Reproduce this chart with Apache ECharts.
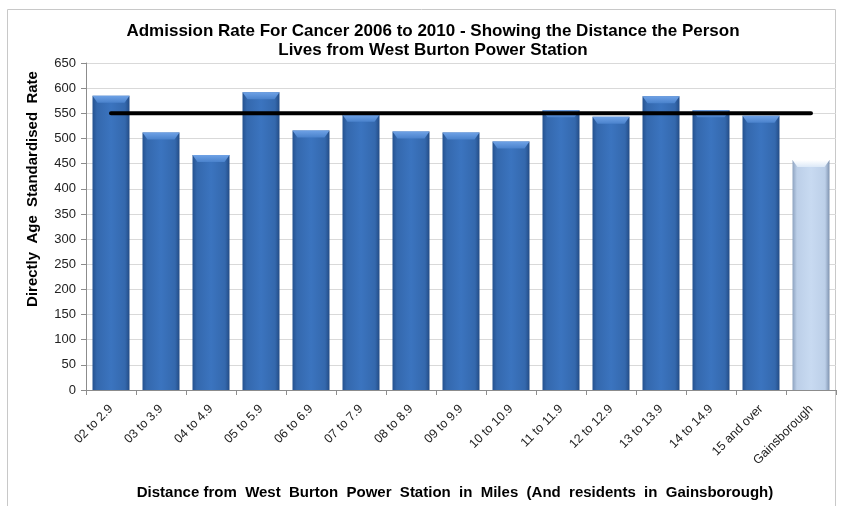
<!DOCTYPE html>
<html>
<head>
<meta charset="utf-8">
<script src="https://cdn.jsdelivr.net/npm/echarts@6/dist/echarts.min.js"></script>
<style>
    html, body { margin: 0; padding: 0; background: #fff; }
    #chart { width: 842px; height: 506px; }
</style>
</head>
<body>
<div id="chart"></div>
<script>
// distance bands (miles) plus the town itself
var categories = ['02 to 2.9', '03 to 3.9', '04 to 4.9', '05 to 5.9', '06 to 6.9', '07 to 7.9',
    '08 to 8.9', '09 to 9.9', '10 to 10.9', '11 to 11.9', '12 to 12.9', '13 to 13.9',
    '14 to 14.9', '15 and over', 'Gainsborough'];
var rates = [585, 512, 467, 592, 516, 547, 514, 512, 494, 556, 543, 584, 556, 545, 457];
// overall average line
var average = [550, 550, 550, 550, 550, 550, 550, 550, 550, 550, 550, 550, 550, 550, 550];

lineTable('chart');

function lineTable(id) {
    var myChart = echarts.init(document.getElementById(id));

    var darkBar = new echarts.graphic.LinearGradient(0, 0, 1, 0, [
        {offset: 0, color: '#25528f'},
        {offset: 0.12, color: '#3468ad'},
        {offset: 0.5, color: '#3b74bf'},
        {offset: 0.88, color: '#3468ad'},
        {offset: 1, color: '#234c86'}
    ]);
    var lightBar = new echarts.graphic.LinearGradient(0, 0, 1, 0, [
        {offset: 0, color: '#8ea3c0'},
        {offset: 0.12, color: '#bccfe8'},
        {offset: 0.5, color: '#c8daf1'},
        {offset: 0.88, color: '#bccfe8'},
        {offset: 1, color: '#7f93b0'}
    ]);

    var barData = [];
    for (var i = 0; i < rates.length; i++) {
        barData.push({
            value: rates[i],
            itemStyle: {color: categories[i] == 'Gainsborough' ? lightBar : darkBar}
        });
    }

    // bevel on top of each bar
    function bevel(params, api) {
        var idx = api.value(0);
        var top = api.coord([idx, api.value(1)]);
        var w = api.size([1, 0])[0] * 0.74;
        var x0 = top[0] - w / 2, x1 = top[0] + w / 2, y = top[1];
        var light = categories[idx] == 'Gainsborough';
        return {
            type: 'polygon',
            shape: {points: [[x0, y], [x1, y], [x1 - 5, y + 7], [x0 + 5, y + 7]]},
            style: {
                fill: new echarts.graphic.LinearGradient(0, 0, 0, 1, [
                    {offset: 0, color: light ? '#ffffff' : '#6fa2e6'},
                    {offset: 1, color: light ? '#dbe8f7' : '#4a82cc'}
                ])
            }
        };
    }

    var option = {
        animation: false,
        textStyle: {fontFamily: 'Liberation Sans, Arial, sans-serif'},
        title: {
            text: 'Admission Rate For Cancer 2006 to 2010 - Showing the Distance the Person\nLives from West Burton Power Station',
            left: 428,
            top: 17,
            textAlign: 'center',
            textStyle: {fontSize: 17, fontWeight: 'bold', color: '#000', lineHeight: 19}
        },
        graphic: [{
            type: 'rect',
            shape: {x: 7.5, y: 9.5, width: 828, height: 500},
            style: {fill: 'none', stroke: '#c8c8c8', lineWidth: 1},
            silent: true
        }, {
            type: 'text',
            x: 33,
            y: 189,
            rotation: Math.PI / 2,
            style: {
                text: 'Directly  Age  Standardised  Rate',
                font: 'bold 15px Liberation Sans, Arial, sans-serif',
                fill: '#000',
                align: 'center',
                verticalAlign: 'middle'
            }
        }, {
            type: 'text',
            x: 455,
            y: 493,
            style: {
                text: 'Distance from  West  Burton  Power  Station  in  Miles  (And  residents  in  Gainsborough)',
                font: 'bold 15px Liberation Sans, Arial, sans-serif',
                fill: '#000',
                align: 'center',
                verticalAlign: 'middle'
            }
        }],
        grid: {left: 86, right: 6, top: 63, bottom: 116},
        xAxis: {
            type: 'category',
            data: categories,
            axisLine: {lineStyle: {color: '#8c8c8c'}},
            axisTick: {show: true, alignWithLabel: false, length: 5, lineStyle: {color: '#8c8c8c'}},
            axisLabel: {rotate: 45, fontSize: 12.5, color: '#222', margin: 17, interval: 0}
        },
        yAxis: {
            type: 'value',
            min: 0,
            max: 650,
            interval: 50,
            axisLine: {show: true, lineStyle: {color: '#8c8c8c'}},
            axisTick: {show: true, inside: false, length: 5, lineStyle: {color: '#8c8c8c'}},
            axisLabel: {fontSize: 13, color: '#222', margin: 10},
            splitLine: {lineStyle: {color: '#d9d9d9', width: 1}}
        },
        series: [
            {
                name: 'Rate',
                type: 'bar',
                barCategoryGap: '26%',
                data: barData
            },
            {
                name: 'Bevel',
                type: 'custom',
                renderItem: bevel,
                data: rates.map(function (v, i) { return [i, v]; }),
                z: 3
            },
            {
                name: 'Average',
                type: 'line',
                data: average,
                symbol: 'none',
                z: 5,
                lineStyle: {color: '#000', width: 4, cap: 'round'}
            }
        ]
    };

    myChart.setOption(option);
}
</script>
</body>
</html>
